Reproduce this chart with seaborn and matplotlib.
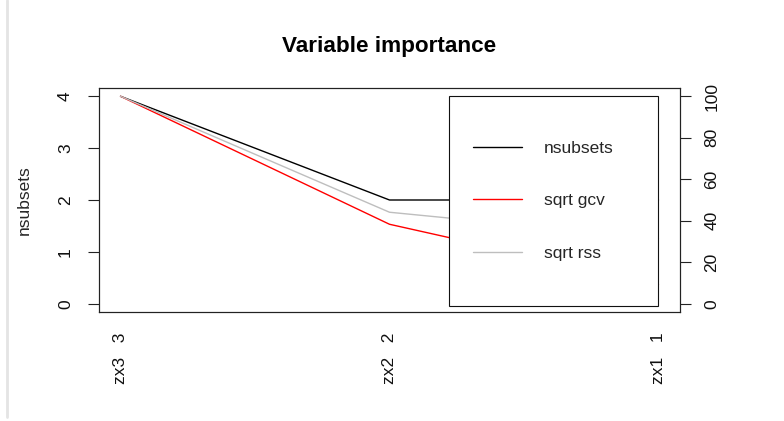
import seaborn as sns
import matplotlib.pyplot as plt
import pandas as pd
from matplotlib.patches import Rectangle
from matplotlib.lines import Line2D

# values
variables = ["zx3", "zx2", "zx1"]
var_index = [3, 2, 1]
nsubsets = [4, 2, 2]
sqrt_gcv = [100, 38.3, 9.3]
sqrt_rss = [100, 44.1, 31.4]

pos = [1, 2, 3]
df = pd.DataFrame({"pos": pos, "nsubsets": nsubsets,
                   "sqrt gcv": sqrt_gcv, "sqrt rss": sqrt_rss})

sns.set_style("white")
plt.rcParams["font.family"] = ["Liberation Sans", "DejaVu Sans"]
plt.rcParams["font.size"] = 12.5

fig = plt.figure(figsize=(7.84, 4.21), dpi=100)
ax = fig.add_axes([99 / 784, 1 - 312 / 421, 581 / 784, 224 / 421])
ax2 = ax.twinx()

sns.lineplot(data=df, x="pos", y="nsubsets", ax=ax, color="black", lw=1)
sns.lineplot(data=df, x="pos", y="sqrt gcv", ax=ax2, color="red", lw=1)
sns.lineplot(data=df, x="pos", y="sqrt rss", ax=ax2, color="#bebebe", lw=1)

ax.set_xlim(0.92, 3.08)
ax.set_ylim(-0.16, 4.16)
ax2.set_ylim(-4, 104)

ax.set_xticks(pos)
ax.set_xticklabels([f"{v}   {i}" for v, i in zip(variables, var_index)],
                   rotation=90, va="top", ha="center")
ax.set_yticks(range(0, 5))
ax2.set_yticks(range(0, 101, 20))
for t in ax.get_yticklabels():
    t.set_rotation(90)
    t.set_va("center")
    t.set_ha("right")
for t in ax2.get_yticklabels():
    t.set_rotation(90)
    t.set_va("center")
    t.set_ha("left")

for a in (ax, ax2):
    for s in a.spines.values():
        s.set_color("#222222")
        s.set_linewidth(0.8)
ax.tick_params(axis="both", direction="out", length=7.7, width=0.8,
               color="#222222", labelcolor="#111111")
ax.tick_params(axis="x", pad=7)
ax.tick_params(axis="y", pad=11)
ax2.tick_params(axis="y", direction="out", length=7.7, width=0.8,
                color="#222222", labelcolor="#111111", pad=10)

ax.set_xlabel("")
ax.set_ylabel("nsubsets", fontsize=12.5)
ax.yaxis.set_label_coords(-0.115, 0.5)
ax2.set_ylabel("")
ax.set_title("Variable importance", fontsize=16.2, fontweight="bold",
             pad=26, color="black")

# legend box drawn like R's legend()
box = Rectangle((449 / 784, 1 - 306 / 421), 209 / 784, 210 / 421,
                transform=fig.transFigure, facecolor="white",
                edgecolor="#111111", lw=0.8, zorder=3, clip_on=False)
ax2.add_patch(box)
handles = [Line2D([], [], color="black", lw=1),
           Line2D([], [], color="red", lw=1),
           Line2D([], [], color="#bebebe", lw=1)]
leg = ax2.legend(handles, ["nsubsets", "sqrt gcv", "sqrt rss"],
                 loc="center", bbox_to_anchor=(543.5 / 784, 1 - 200.7 / 421),
                 bbox_transform=fig.transFigure, frameon=False,
                 handlelength=2.8, handletextpad=1.3, labelspacing=2.15,
                 borderpad=0, fontsize=12.5)
leg.set_zorder(5)

# light grey edge of the screenshot
fig.add_artist(Line2D([7 / 784, 7 / 784], [0.01, 1], color="#e4e4e4",
                      lw=2, transform=fig.transFigure))

fig.savefig("out.png", dpi=100)
